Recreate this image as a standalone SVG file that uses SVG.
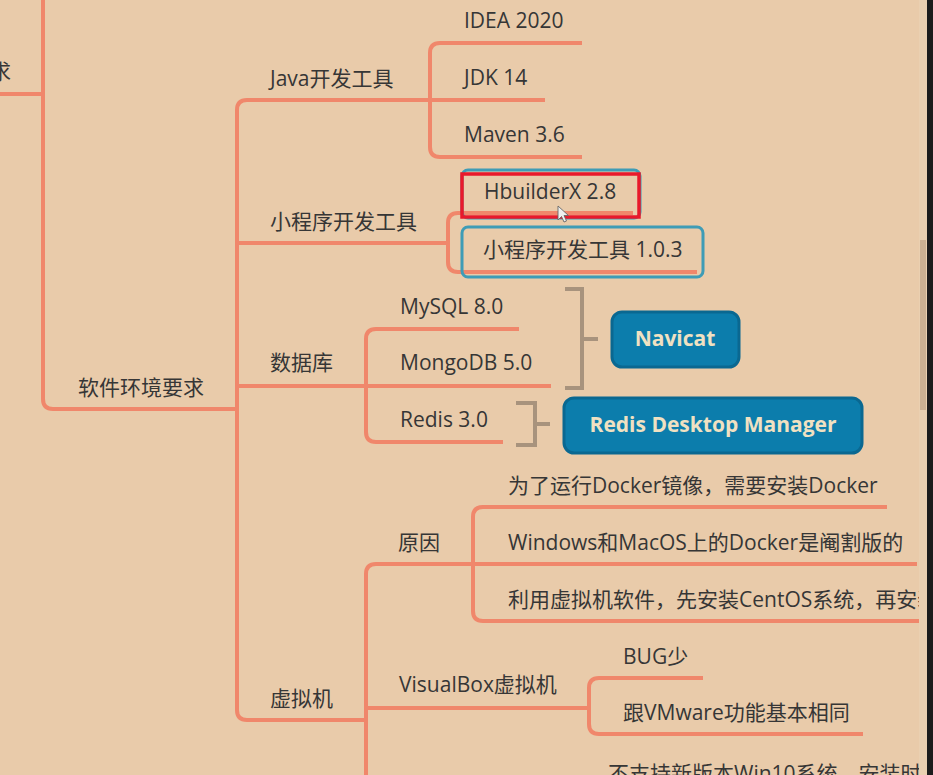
<svg xmlns="http://www.w3.org/2000/svg" width="933" height="775" viewBox="0 0 933 775">
<style>
.bg{fill:#E9CBAA}
.ln{fill:none;stroke:#F0876B;stroke-width:4;stroke-linejoin:round}
.gb{fill:none;stroke:#A8937D;stroke-width:4}
.t{font-family:"Open Sans","Noto Sans CJK SC",sans-serif;font-size:21px;fill:#363636}
.bt{font-family:"Open Sans","Noto Sans CJK SC",sans-serif;font-size:21px;font-weight:bold;fill:#F0E1C2;text-anchor:middle}
.blue{fill:#0C7DAC;stroke:#0A6891;stroke-width:3}
.teal{fill:none;stroke:#3E9CB6;stroke-width:3}
</style>
<rect class="bg" x="0" y="0" width="933" height="775"/>
<g id="connectors">
<path class="ln" d="M0,94 H43 M43,0 V399 Q43,409 53,409 H237"/>
<path class="ln" d="M430,100 H247 Q237,100 237,110 V710 Q237,720 247,720 H366"/>
<path class="ln" d="M237,243 H448 M237,386 H551"/>
<path class="ln" d="M582,43 H440 Q430,43 430,53 V147 Q430,157 440,157 H582 M430,100 H545"/>
<path class="ln" d="M633,213 H458 Q448,213 448,223 V262 Q448,272 458,272 H697"/>
<path class="ln" d="M519,329 H376 Q366,329 366,339 V432 Q366,442 376,442 H503"/>
<path class="ln" d="M473,564 H376 Q366,564 366,574 V775 M366,708 H589"/>
<path class="ln" d="M887,507 H483 Q473,507 473,517 V611 Q473,621 483,621 H920 M473,564 H917"/>
<path class="ln" d="M703,678 H599 Q589,678 589,688 V724 Q589,734 599,734 H863"/>
<path class="gb" d="M565,289 H582 V388 H565 M582,339 H598"/>
<path class="gb" d="M516,403 H535 V445 H516 M535,424 H550"/>
</g>
<g id="n-root"><text class="t" x="-10" y="79">求</text></g>
<g id="n-software"><text class="t" x="78" y="395">软件环境要求</text></g>
<g id="n-java"><text class="t" x="270" y="86">Java开发工具</text></g>
<g id="n-idea"><text class="t" x="464" y="28">IDEA 2020</text></g>
<g id="n-jdk"><text class="t" x="464" y="85">JDK 14</text></g>
<g id="n-maven"><text class="t" x="464" y="142">Maven 3.6</text></g>
<g id="n-mini"><text class="t" x="270" y="229">小程序开发工具</text></g>
<g id="n-hbuilder">
<rect class="teal" x="462" y="170" width="178" height="48" rx="6"/>
<text class="t" x="484" y="199">HbuilderX 2.8</text>
<rect x="462" y="174" width="177" height="43" fill="none" stroke="#E8192B" stroke-width="3.5"/>
</g>
<g id="n-minitool">
<rect class="teal" x="462" y="227" width="241" height="50" rx="6"/>
<text class="t" x="483" y="257">小程序开发工具 1.0.3</text>
</g>
<g id="n-db"><text class="t" x="270" y="370">数据库</text></g>
<g id="n-mysql"><text class="t" x="400" y="314">MySQL 8.0</text></g>
<g id="n-mongo"><text class="t" x="400" y="370">MongoDB 5.0</text></g>
<g id="n-redis"><text class="t" x="400" y="427">Redis 3.0</text></g>
<g id="n-navicat">
<rect class="blue" x="612" y="312" width="127" height="55" rx="10"/>
<text class="bt" x="675" y="346">Navicat</text>
</g>
<g id="n-rdm">
<rect class="blue" x="564" y="398" width="298" height="55" rx="10"/>
<text class="bt" x="713" y="432">Redis Desktop Manager</text>
</g>
<g id="n-vm"><text class="t" x="270" y="706">虚拟机</text></g>
<g id="n-reason"><text class="t" x="398" y="550">原因</text></g>
<g id="n-r1"><text class="t" x="508" y="493">为了运行Docker镜像，需要安装Docker</text></g>
<g id="n-r2"><text class="t" x="508" y="550">Windows和MacOS上的Docker是阉割版的</text></g>
<g id="n-r3"><text class="t" x="508" y="607">利用虚拟机软件，先安装CentOS系统，再安装</text></g>
<g id="n-vbox"><text class="t" x="399" y="692">VisualBox虚拟机</text></g>
<g id="n-bug"><text class="t" x="623" y="664">BUG少</text></g>
<g id="n-same"><text class="t" x="623" y="720">跟VMware功能基本相同</text></g>
<g id="n-win10"><text class="t" x="608" y="781">不支持新版本Win10系统，安装时</text></g>
<g id="cursor"><path d="M558,206 L558,220 L561.5,216.5 L564,222 L566.5,221 L564,215.5 L568.5,215.5 Z" fill="#EFEFEF" stroke="#666" stroke-width="0.9"/></g>
<g id="scrollbar">
<rect x="919" y="0" width="8" height="775" fill="#EAD0B1"/>
<rect x="920" y="240" width="6" height="170" fill="#CBB193"/>
<rect x="927" y="0" width="6" height="775" fill="#1C1C1C"/>
</g>
</svg>
